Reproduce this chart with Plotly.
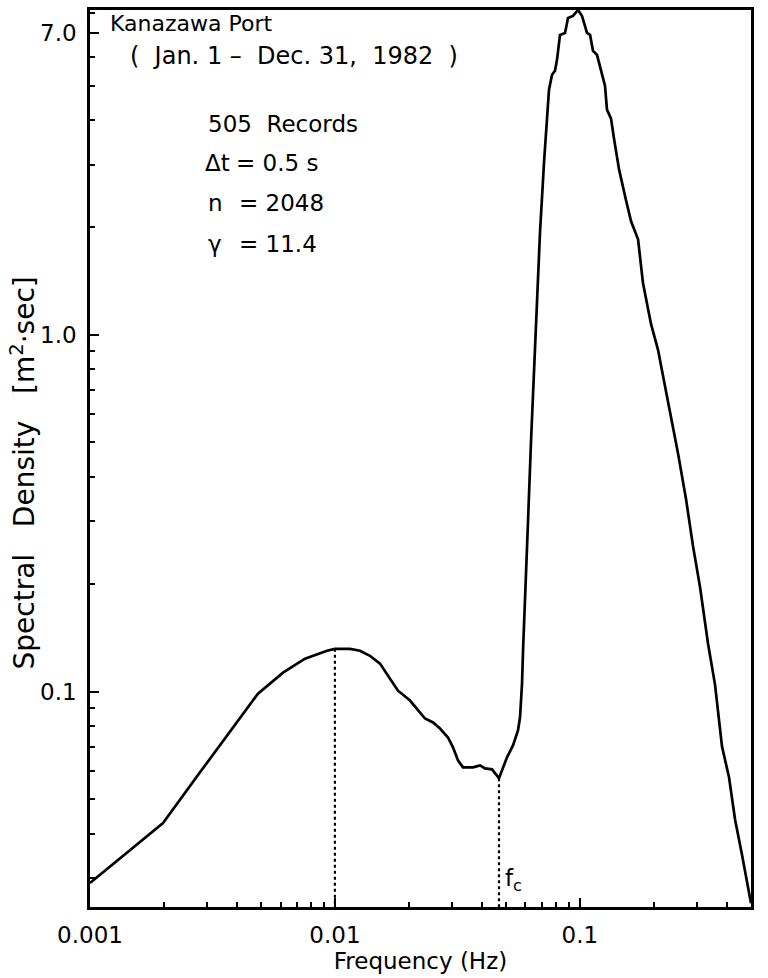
import math
import plotly.graph_objects as go

# Wave spectrum, Kanazawa Port, 1982 (frequency in Hz, density in m^2*sec)
freq = [
    0.001, 0.001987, 0.002813, 0.003909, 0.004853, 0.006139, 0.007548, 0.009284,
    0.0100, 0.01153, 0.01266, 0.01390, 0.01528, 0.01679, 0.01810, 0.02026,
    0.02184, 0.02333, 0.02516, 0.02687, 0.02896, 0.03035, 0.03180, 0.03334,
    0.03663, 0.03914, 0.04101, 0.04380, 0.04677, 0.04812, 0.05043, 0.05336,
    0.05592, 0.05699, 0.05808, 0.05863, 0.05974, 0.06145, 0.06320, 0.06501,
    0.06686, 0.06878, 0.07142, 0.07347, 0.07485, 0.07700, 0.07919, 0.08070,
    0.08300, 0.08701, 0.08949, 0.09380, 0.09831, 0.1021, 0.1070, 0.1101,
    0.1132, 0.1175, 0.1209, 0.1267, 0.1291, 0.1341, 0.1379, 0.1446,
    0.1544, 0.1619, 0.1729, 0.1811, 0.1953, 0.2086, 0.2186, 0.2335,
    0.2518, 0.2715, 0.2899, 0.3096, 0.3339, 0.3565, 0.3807, 0.4066,
    0.4302, 0.4596, 0.5,
]
density = [
    0.02909, 0.04279, 0.05939, 0.08087, 0.09872, 0.1130, 0.1237, 0.1302,
    0.1318, 0.1318, 0.1302, 0.1260, 0.1198, 0.1087, 0.1006, 0.09438,
    0.08851, 0.08405, 0.08192, 0.07880, 0.07436, 0.06976, 0.06418, 0.06134,
    0.06134, 0.06213, 0.06094, 0.06055, 0.05715, 0.06017, 0.06542, 0.07066,
    0.07780, 0.08459, 0.1053, 0.1302, 0.1915, 0.3003, 0.5025, 0.7882,
    1.236, 1.940, 3.043, 3.936, 4.867, 5.359, 5.498, 5.902,
    6.931, 7.020, 7.733, 7.832, 8.140, 7.832, 7.020, 6.931,
    6.253, 6.095, 5.678, 4.993, 4.278, 4.038, 3.550, 2.909,
    2.383, 2.082, 1.854, 1.397, 1.073, 0.9081, 0.7679, 0.6094,
    0.4652, 0.3459, 0.2557, 0.1965, 0.1362, 0.1046, 0.07020, 0.05752,
    0.04390, 0.03482, 0.0255,
]

x_ticks = [0.001, 0.01, 0.1, 0.5]
x_ticktext = ["0.001", "0.01", "0.1", "0.5"]
y_ticks = [0.1, 1.0, 7.0]
y_ticktext = ["0.1", "1.0", "7.0"]

x_minor = [k * 10.0 ** e for e in (-3, -2, -1) for k in range(2, 10) if k * 10.0 ** e < 0.5]
y_minor = [k * 10.0 ** e for e in (-2, -1, 0) for k in range(2, 10)
           if 0.025 < k * 10.0 ** e < 8.2 and k * 10.0 ** e not in y_ticks]

y_lo, y_hi = 0.0249, 8.14

# low-frequency hump peak (at 0.01 Hz) and the cutoff f_c (spectral trough)
i_peak = freq.index(0.0100)
band = [i for i, f in enumerate(freq) if 0.03 < f < 0.06]
i_fc = min(band, key=lambda i: density[i])

FONT = "DejaVu Sans"

fig = go.Figure()
fig.add_trace(go.Scatter(
    x=freq, y=density, mode="lines",
    line=dict(color="black", width=2.7), hoverinfo="skip",
))
for i in (i_peak, i_fc):
    fig.add_trace(go.Scatter(
        x=[freq[i], freq[i]], y=[density[i], y_lo], mode="lines",
        line=dict(color="black", width=2.2, dash="dot"), hoverinfo="skip",
    ))

axis_common = dict(
    type="log", showgrid=False, zeroline=False,
    showline=True, linecolor="black", linewidth=2.5, mirror=True,
    ticks="inside", ticklen=9, tickwidth=2, tickcolor="black",
    tickfont=dict(family=FONT, size=23, color="black"),
    ticklabelstandoff=6,
)

fig.update_layout(
    width=768, height=978,
    margin=dict(l=90, r=17, t=7, b=71),
    paper_bgcolor="white", plot_bgcolor="white",
    showlegend=False,
    font=dict(family=FONT, color="black"),
    xaxis=dict(
        **axis_common,
        range=[-3, math.log10(0.5)],
        tickmode="array", tickvals=x_ticks, ticktext=x_ticktext,
        minor=dict(tickmode="array", tickvals=x_minor, ticks="inside",
                   ticklen=5, tickwidth=2, tickcolor="black"),
        title=dict(text="Frequency (Hz)", font=dict(family=FONT, size=23),
                   standoff=2),
    ),
    yaxis=dict(
        **axis_common,
        range=[math.log10(y_lo), math.log10(y_hi)],
        tickmode="array", tickvals=y_ticks, ticktext=y_ticktext,
        minor=dict(tickmode="array", tickvals=y_minor, ticks="inside",
                   ticklen=5, tickwidth=2, tickcolor="black"),
    ),
)

def px(xp):
    return (xp - 90) / 661.0

def py(yp):
    return (907 - yp) / 900.0

# (text, left x, centre y, font size)
notes = [
    ("Kanazawa Port", 108, 21, 22),
    ("(  Jan. 1 –  Dec. 31,  1982  )", 128, 53, 24),
    ("505  Records", 206, 121, 23),
    ("Δt", 203, 161, 23),
    ("= 0.5 s", 234, 161, 23),
    ("n", 206, 201, 23),
    ("= 2048", 237, 201, 23),
    ("γ", 206, 242, 23),
    ("= 11.4", 237, 242, 23),
]
for text, xp, yp, size in notes:
    fig.add_annotation(
        x=px(xp), y=py(yp), xref="paper", yref="paper",
        text=text, showarrow=False, xanchor="left", yanchor="middle",
        font=dict(family=FONT, size=size, color="black"),
    )

# vertical axis title
fig.add_annotation(
    x=px(23), y=py(472), xref="paper", yref="paper",
    text="Spectral   Density   [m<sup>2</sup>·sec]", textangle=-90,
    showarrow=False, xanchor="center", yanchor="middle",
    font=dict(family=FONT, size=28, color="black"),
)

# cutoff frequency label next to its dotted marker
fig.add_annotation(
    x=math.log10(freq[i_fc]), y=math.log10(0.0296), xref="x", yref="y",
    text="f<sub>c</sub>", showarrow=False, xanchor="left", yanchor="middle",
    xshift=4, font=dict(family=FONT, size=23, color="black"),
)

fig.write_html("out.html")
